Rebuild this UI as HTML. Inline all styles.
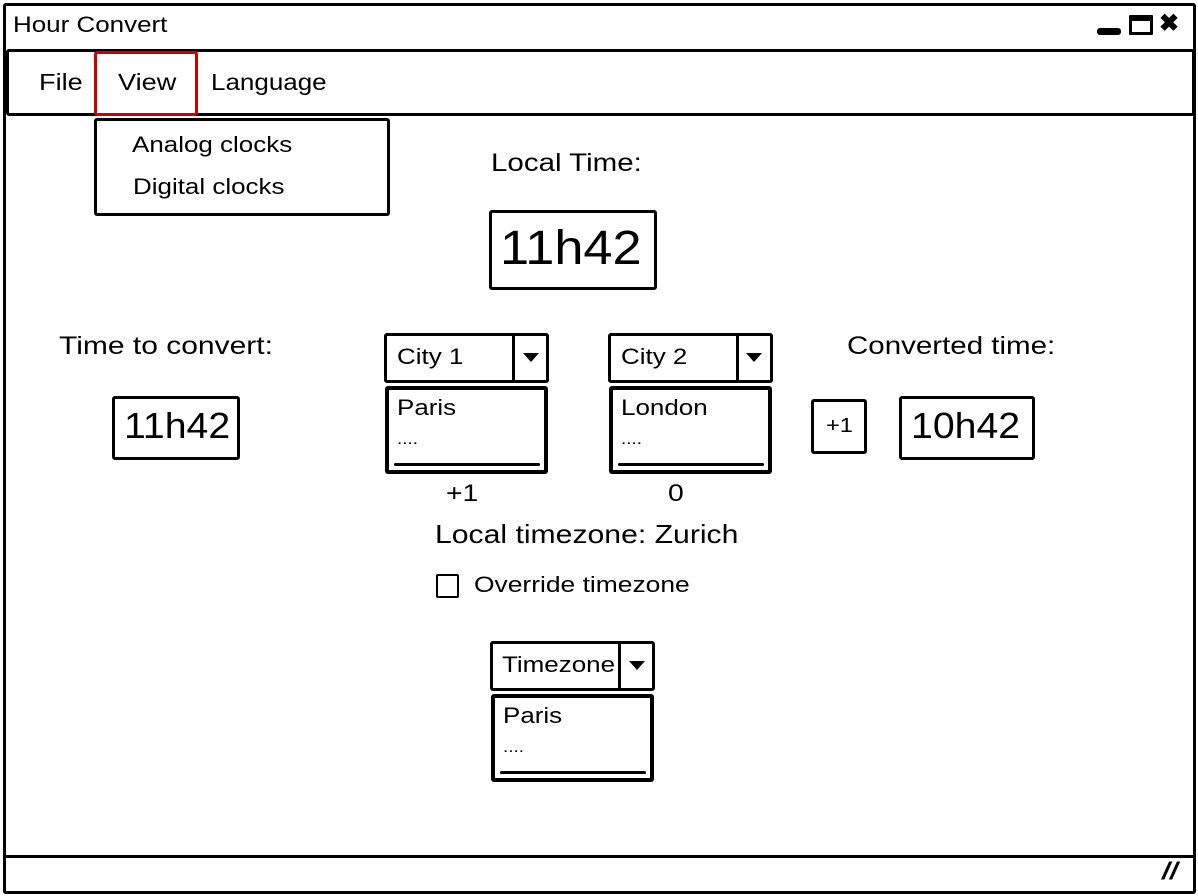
<!DOCTYPE html>
<html><head><meta charset="utf-8"><style>
*{box-sizing:border-box;margin:0;padding:0}
body{width:1198px;height:896px;background:#fff;position:relative;overflow:hidden;font-family:"Liberation Sans",sans-serif;color:#000}
.a{position:absolute}
.b{position:absolute;border:3px solid #000;border-radius:3px;background:#fff}
.t{position:absolute;white-space:nowrap;line-height:1;transform:scaleX(1.18);transform-origin:0 0}
.n{transform:scaleX(1.09)}
.tri{position:absolute;width:0;height:0;border-left:8px solid transparent;border-right:8px solid transparent;border-top:9px solid #000}
.ul{position:absolute;height:3px;background:#000;border-radius:2px}
</style></head><body>
<div class="b" style="left:3px;top:3px;width:1193px;height:891px;border-width:3px"></div>
<div class="t" style="left:13px;top:14px;font-size:22px">Hour Convert</div>
<div class="a" style="left:1097px;top:28px;width:24px;height:7px;background:#000;border-radius:3px"></div>
<div class="b" style="left:1129px;top:15px;width:24px;height:20px;border-width:3px;border-top-width:6px;border-radius:1px"></div>
<div class="t" style="left:1159px;top:12px;font-size:24px;font-weight:bold;transform:none">✖</div>
<div class="b" style="left:6px;top:49px;width:1189px;height:67px"></div>
<div class="t" style="left:39px;top:71px;font-size:23px">File</div>
<div class="a" style="left:94px;top:51px;width:104px;height:65px;border:3px solid #c80000;border-radius:3px"></div>
<div class="t" style="left:118px;top:71px;font-size:23px">View</div>
<div class="t" style="left:211px;top:71px;font-size:23px;transform:scaleX(1.13)">Language</div>
<div class="b" style="left:94px;top:118px;width:296px;height:98px"></div>
<div class="t" style="left:132px;top:134px;font-size:22px">Analog clocks</div>
<div class="t" style="left:133px;top:176px;font-size:22px">Digital clocks</div>
<div class="t" style="left:491px;top:151px;font-size:25px">Local Time:</div>
<div class="b" style="left:489px;top:210px;width:168px;height:80px"></div>
<div class="t n" style="left:500px;top:225px;font-size:48px">11h42</div>
<div class="t" style="left:59px;top:334px;font-size:25px;transform:scaleX(1.2)">Time to convert:</div>
<div class="b" style="left:112px;top:396px;width:128px;height:64px"></div>
<div class="t n" style="left:124px;top:408px;font-size:36px">11h42</div>
<!-- City1 -->
<div class="b" style="left:384px;top:333px;width:165px;height:50px"></div>
<div class="a" style="left:512px;top:335px;width:3px;height:47px;background:#000"></div>
<div class="tri" style="left:523px;top:353px"></div>
<div class="t" style="left:397px;top:346px;font-size:22px">City 1</div>
<div class="b" style="left:385px;top:386px;width:163px;height:88px;border-width:4px"></div>
<div class="t" style="left:397px;top:397px;font-size:22px">Paris</div>
<div class="t" style="left:397px;top:432px;font-size:16px">....</div>
<div class="ul" style="left:394px;top:463px;width:146px"></div>
<div class="t" style="left:446px;top:482px;font-size:24px">+1</div>
<!-- City2 -->
<div class="b" style="left:608px;top:333px;width:165px;height:50px"></div>
<div class="a" style="left:736px;top:335px;width:3px;height:47px;background:#000"></div>
<div class="tri" style="left:746px;top:353px"></div>
<div class="t" style="left:621px;top:346px;font-size:22px">City 2</div>
<div class="b" style="left:609px;top:386px;width:163px;height:88px;border-width:4px"></div>
<div class="t" style="left:621px;top:397px;font-size:22px">London</div>
<div class="t" style="left:621px;top:432px;font-size:16px">....</div>
<div class="ul" style="left:618px;top:463px;width:146px"></div>
<div class="t" style="left:668px;top:482px;font-size:24px">0</div>
<div class="t" style="left:847px;top:334px;font-size:25px">Converted time:</div>
<div class="b" style="left:811px;top:399px;width:56px;height:55px"></div>
<div class="t" style="left:826px;top:416px;font-size:20px">+1</div>
<div class="b" style="left:899px;top:396px;width:136px;height:64px"></div>
<div class="t n" style="left:911px;top:408px;font-size:36px">10h42</div>
<div class="t" style="left:435px;top:521px;font-size:26px;transform:scaleX(1.16)">Local timezone: Zurich</div>
<div class="a" style="left:436px;top:574px;width:23px;height:24px;border:2px solid #000;border-radius:2px"></div>
<div class="t" style="left:474px;top:574px;font-size:22px;transform:scaleX(1.2)">Override timezone</div>
<!-- Timezone -->
<div class="b" style="left:490px;top:641px;width:165px;height:50px"></div>
<div class="a" style="left:618px;top:643px;width:3px;height:47px;background:#000"></div>
<div class="tri" style="left:629px;top:661px"></div>
<div class="t" style="left:502px;top:654px;font-size:22px">Timezone</div>
<div class="b" style="left:491px;top:694px;width:163px;height:88px;border-width:4px"></div>
<div class="t" style="left:503px;top:705px;font-size:22px">Paris</div>
<div class="t" style="left:503px;top:740px;font-size:16px">....</div>
<div class="ul" style="left:500px;top:771px;width:146px"></div>
<!-- status -->
<div class="b" style="left:3px;top:855px;width:1193px;height:39px"></div>
<div class="t" style="left:1162px;top:860px;font-size:24px;font-weight:bold;font-style:italic">//</div>
</body></html>
